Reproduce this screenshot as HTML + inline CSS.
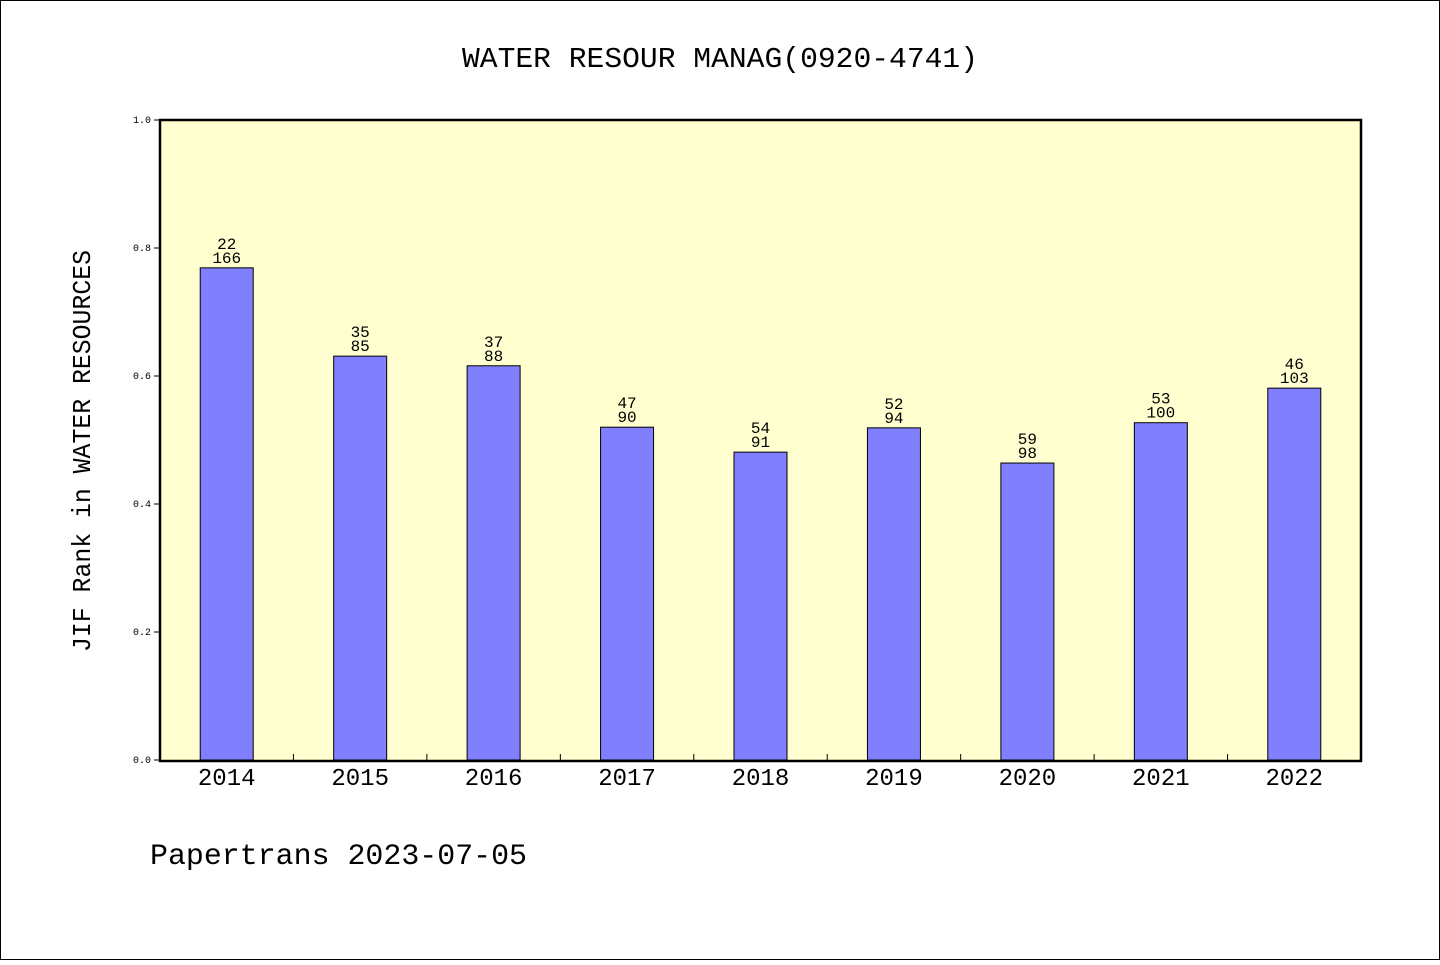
<!DOCTYPE html>
<html><head><meta charset="utf-8"><style>
html,body{margin:0;padding:0;background:#fff}
svg text{font-family:"Liberation Mono","WenQuanYi Zen Hei",monospace;fill:#000}
</style></head><body>
<svg width="1440" height="960" viewBox="0 0 1440 960" xmlns="http://www.w3.org/2000/svg">
<rect x="0.5" y="0.5" width="1439" height="959" fill="#fff" stroke="#000"/>
<text x="720" y="67" font-size="29" text-anchor="middle" textLength="516" lengthAdjust="spacingAndGlyphs">WATER RESOUR MANAG(0920-4741)</text>
<rect x="160" y="120" width="1201" height="641" fill="#ffffd0"/>
<g id="bars"></g>
<g id="axes"></g>
<rect x="160" y="120" width="1201" height="641" fill="none" stroke="#000" stroke-width="2.5"/>
<text transform="translate(90,451) rotate(-90)" font-size="26" text-anchor="middle" textLength="402" lengthAdjust="spacingAndGlyphs">JIF Rank in WATER RESOURCES</text>
<text x="150" y="864" font-size="30" textLength="377" lengthAdjust="spacingAndGlyphs">Papertrans 2023-07-05</text>
</svg>
<script>
const categories=["2014","2015","2016","2017","2018","2019","2020","2021","2022"];
const values=[0.769,0.631,0.616,0.520,0.481,0.519,0.464,0.527,0.581];
const ranks=["22","35","37","47","54","52","59","53","46"];
const totals=["166","85","88","90","91","94","98","100","103"];
const yTicks=[0,0.2,0.4,0.6,0.8,1.0];
const NS="http://www.w3.org/2000/svg";
const x0=160,x1=1361,yBase=760,yTop=120;
const band=(x1-x0)/categories.length;
function xC(i){return x0+band*(i+0.5);}
function yS(v){return yBase-(yBase-yTop)*v;}
function mk(tag,attrs,parent){const e=document.createElementNS(NS,tag);for(const k in attrs)e.setAttribute(k,attrs[k]);parent.appendChild(e);return e;}
const bg=document.getElementById('bars'),ag=document.getElementById('axes');
categories.forEach((c,i)=>{
  const cx=xC(i),bw=53,y=yS(values[i]);
  const r=mk('rect',{x:cx-bw/2,y:y,width:bw,height:yBase-y,fill:'#8080ff',stroke:'#000','stroke-width':1},bg);
  
  
  const t1=mk('text',{x:cx,y:y-19,'font-size':16,'text-anchor':'middle'},bg);t1.textContent=ranks[i];
  
  
  const t2=mk('text',{x:cx,y:y-5,'font-size':16,'text-anchor':'middle'},bg);t2.textContent=totals[i];
  
  
  const xl=mk('text',{x:cx,y:785,'font-size':24,'text-anchor':'middle'},ag);xl.textContent=c;
  
  
  if(i>0){const tk=mk('line',{x1:x0+band*i,x2:x0+band*i,y1:754,y2:760,stroke:'#000'},ag);
  
  }
});
yTicks.forEach(v=>{
  const y=yS(v);
  const l=mk('line',{x1:154,x2:160,y1:y,y2:y,stroke:'#000'},ag);
  
  
  const t=mk('text',{x:151,y:y+3,'font-size':10,'text-anchor':'end'},ag);t.textContent=v.toFixed(1);
  
  
});
</script>
</body></html>
